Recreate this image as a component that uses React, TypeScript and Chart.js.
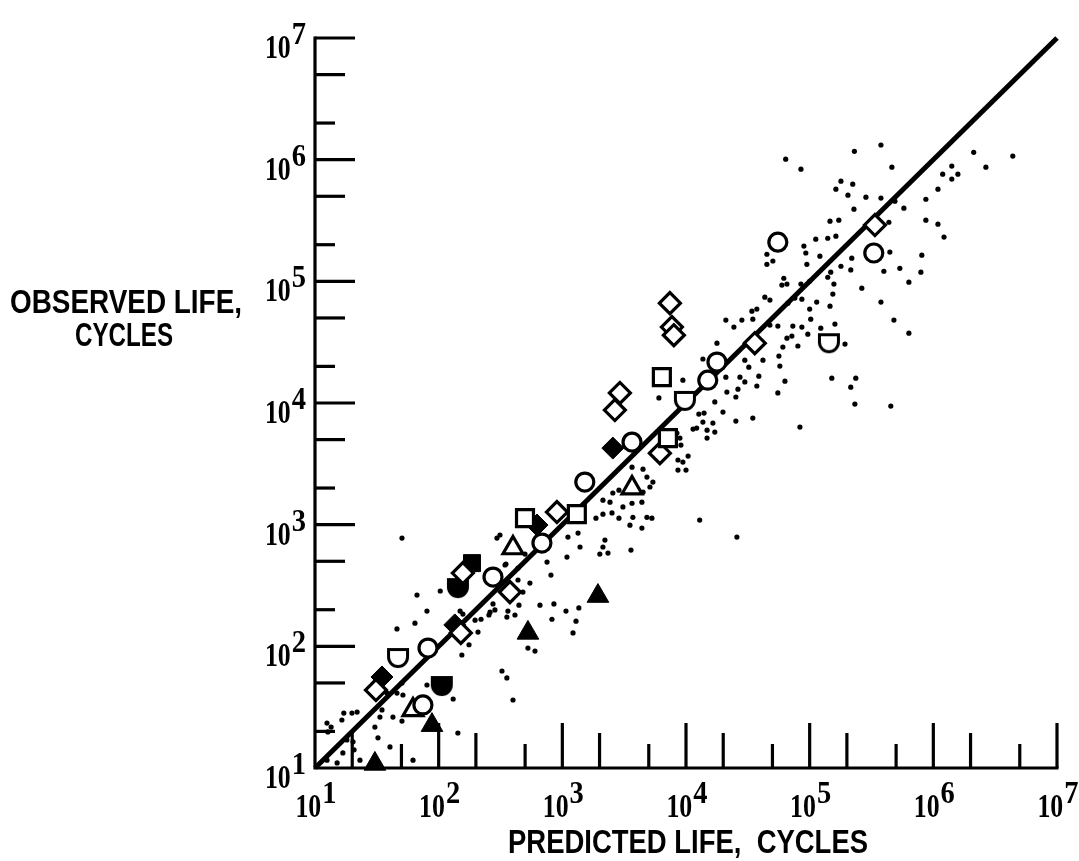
import React, { useEffect, useRef } from 'react';
import { Chart, registerables } from 'chart.js';

Chart.register(...registerables);

// ---------- axis definition ----------
const AXIS_MIN = 10;
const AXIS_MAX = 1e7;
const decadeValues = [1e1, 1e2, 1e3, 1e4, 1e5, 1e6, 1e7];
const decadeExponents = ['1', '2', '3', '4', '5', '6', '7'];
const minorMultipliers = [2, 5];
const xTitle = 'PREDICTED LIFE,  CYCLES';
const yTitleLines = ['OBSERVED LIFE,', 'CYCLES'];

// ---------- data (predicted life, observed life) ----------
const fitLine: [number, number][] = [[10, 10], [1e7, 1e7]];

const openCircles: [number, number][] = [
  [5.53e4, 2.1e5], [3.3e5, 1.71e5], [1.78e4, 2.17e4], [1.5e4, 1.54e4], [3.66e3, 4.77e3],
  [1.52e3, 2.24e3], [684, 706], [275, 371], [82, 96.8], [74.6, 33],
];
const openShields: [number, number][] = [[9.8e3, 1.06e4], [46.9, 81.7], [1.43e5, 3.16e4]];
const openSquares: [number, number][] = [[6.38e3, 1.63e4], [7.14e3, 5.15e3], [1.31e3, 1.22e3], [499, 1.13e3]];
const openDiamonds: [number, number][] = [
  [7.41e3, 6.62e4], [7.69e3, 4.21e4], [7.98e3, 3.61e4], [2.92e3, 1.21e4], [2.66e3, 8.75e3],
  [6.15e3, 3.87e3], [3.6e4, 3.1e4], [3.37e5, 2.9e5], [904, 1.27e3], [377, 279], [151, 129],
  [31.1, 43.7], [157, 400],
];
const openTriangles: [number, number][] = [[3.66e3, 2.0e3], [399, 643], [62, 30]];
const filledTriangles: [number, number][] = [[1.94e3, 259], [527, 129], [88.3, 22.5], [30.5, 10.8]];
const filledDiamonds: [number, number][] = [[2.56e3, 4.26e3], [624, 993], [135, 150], [34.8, 56]];
const filledSquares: [number, number][] = [[186, 483]];
const filledShields: [number, number][] = [[106, 48.1], [143, 307]];

const dots: [number, number][] = [
  [6.4e4, 1.01e6], [8.5e4, 8.35e5], [2.3e5, 1.17e6], [3.77e5, 1.32e6], [4.62e5, 8.67e5],
  [1.79e5, 6.66e5], [2.23e5, 6.29e5], [1.63e5, 5.72e5], [2.04e5, 5.11e5], [2.85e5, 4.92e5],
  [3.77e5, 4.83e5], [2.28e5, 3.92e5], [4.89e5, 4.56e5], [5.78e5, 3.99e5], [8.7e5, 4.73e5],
  [1.09e6, 5.72e5], [1.19e6, 7.6e5], [1.41e6, 8.85e5], [1.58e6, 7.6e5], [1.41e6, 6.92e5],
  [2.12e6, 1.15e6], [2.66e6, 8.67e5], [4.39e6, 1.07e6], [1.46e5, 3.12e5], [1.72e5, 3.18e5],
  [1.12e5, 2.22e5], [1.4e5, 2.26e5], [1.63e5, 2.35e5], [8.98e4, 1.95e5], [9.31e4, 1.71e5],
  [1.21e5, 1.61e5], [9.49e4, 1.38e5], [5.04e4, 1.47e5], [2.19e5, 1.55e5], [1.79e5, 1.33e5],
  [2.15e5, 1.24e5], [1.48e5, 1.19e5], [1.4e5, 1.08e5], [1.57e5, 9.49e4], [1.54e5, 7.85e4],
  [1.46e5, 6.25e4], [1.14e5, 6.75e4], [1.0e5, 5.91e4], [1.02e5, 4.89e4], [8.65e4, 7.14e4],
  [6.18e4, 1.06e5], [5.96e4, 9.31e4], [6.55e4, 9.49e4], [8.5e4, 9.49e4], [1.0e5, 1.0e5],
  [7.59e4, 7.28e4], [6.67e4, 6.62e4], [4.37e5, 3.06e5], [4.45e5, 1.74e5], [3.98e5, 1.21e5],
  [5.36e5, 1.28e5], [8.07e5, 1.64e5], [7.93e5, 1.19e5], [6.34e5, 9.85e4], [8.7e5, 3.18e5],
  [1.09e6, 2.95e5], [1.22e6, 2.31e5], [2.64e5, 8.79e4], [3.77e5, 6.75e4], [4.8e5, 4.8e4],
  [6.34e5, 3.75e4], [1.93e5, 3.05e4], [1.6e5, 4.45e4], [1.23e5, 4.12e4], [9.66e4, 3.68e4],
  [8.65e4, 4.21e4], [7.18e4, 3.55e4], [6.55e4, 3.41e4], [8.03e4, 2.94e4], [6.07e4, 2.88e4],
  [5.64e4, 2.43e4], [5.74e4, 2.01e4], [6.31e4, 1.51e4], [5.53e4, 1.21e4], [1.51e5, 1.6e4],
  [2.36e5, 1.6e4], [2.15e5, 1.35e4], [2.32e5, 9.79e3], [4.53e5, 9.44e3], [8.34e4, 6.34e3],
  [5.53e4, 4.29e4], [4.51e4, 1.67e5], [4.51e4, 1.38e5], [4.34e4, 7.41e4], [4.77e4, 7.01e4],
  [3.41e4, 5.69e4], [3.74e4, 5.91e4], [2.1e4, 4.8e4], [2.83e4, 4.8e4], [3.47e4, 4.89e4],
  [2.44e4, 4.21e4], [4.77e4, 4.37e4], [7.31e4, 4.29e4], [1.78e4, 3.1e4], [1.37e4, 2.3e4],
  [2.99e4, 2.25e4], [4.19e4, 2.25e4], [3.22e4, 1.97e4], [2.1e4, 1.63e4], [2.73e4, 1.63e4],
  [3.88e4, 1.66e4], [2.99e4, 1.49e4], [3.74e4, 1.38e4], [2.63e4, 1.3e4], [2.14e4, 1.23e4],
  [2.53e4, 1.12e4], [1.71e4, 1.02e4], [1.99e4, 8.42e3], [1.4e4, 8.26e3], [1.27e4, 8.11e3],
  [1.37e4, 6.97e3], [1.65e4, 6.84e3], [1.48e4, 5.98e3], [1.71e4, 5.77e3], [2.53e4, 7.1e3],
  [3.47e4, 7.52e3], [9.44e3, 1.54e4], [6.04e3, 1.1e4], [8.93e3, 5.15e3], [9.1e3, 4.51e3],
  [1.04e4, 3.66e3], [8.61e3, 3.4e3], [9.44e3, 3.27e3], [8.61e3, 2.81e3], [1.0e4, 2.81e3],
  [4.49e3, 2.86e3], [4.83e3, 2.46e3], [3.66e3, 2.97e3], [8.44e3, 5.66e3], [1.14e4, 6.11e3],
  [1.22e4, 6.22e3], [1.48e4, 5.15e3], [5.4e3, 2.24e3], [5.11e3, 2.04e3], [4.49e3, 1.85e3],
  [2.56e3, 1.82e3], [2.87e3, 1.92e3], [2.13e3, 1.59e3], [2.43e3, 1.53e3], [2.52e3, 1.25e3],
  [3.09e3, 1.4e3], [2.13e3, 1.22e3], [1.87e3, 1.13e3], [3.66e3, 1.5e3], [4.4e3, 1.53e3],
  [2.87e3, 1.13e3], [3.72e3, 1.15e3], [3.52e3, 990], [4.4e3, 938], [4.83e3, 1.15e3],
  [5.3e3, 1.13e3], [2.21e3, 747], [2.13e3, 655], [2.01e3, 573], [2.34e3, 584],
  [3.59e3, 618], [1.39e3, 655], [1.11e3, 791], [1.34e3, 853], [1.09e3, 542],
  [752, 493], [809, 385], [547, 331], [438, 351], [350, 475],
  [313, 822], [296, 776], [499, 573], [659, 218], [855, 223],
  [1.07e3, 195], [1.36e3, 207], [824, 167], [1.29e3, 161], [1.22e3, 129],
  [260, 191], [220, 167], [197, 164], [275, 223], [285, 199],
  [363, 195], [414, 181], [356, 174], [80.4, 195], [103, 285],
  [149, 195], [157, 184], [208, 131], [446, 218], [66.8, 264],
  [64.3, 155], [46, 139], [255, 181], [480, 279], [344, 466],
  [438, 440], [176, 103], [154, 84.9], [325, 62.7], [356, 55],
  [399, 36.2], [143, 19.4], [131, 36.9], [80.4, 48.1], [46, 41.3],
  [51.4, 39.8], [42.7, 26.2], [50.5, 24.3], [34.8, 30], [33.5, 26.2],
  [30.5, 21.7], [32.3, 17.7], [40.4, 14.9], [19.9, 28.3], [17.1, 28.3],
  [21.9, 28.8], [16.5, 24.8], [12.5, 23.4], [13.5, 21.7], [12.7, 19.8],
  [20.3, 16.4], [16.8, 13.3], [20.7, 14.1], [18.1, 17], [62, 11.6],
  [23.1, 11.6], [15.1, 11], [12.5, 11.6], [38.2, 41.3], [50.5, 49.9],
  [527, 96.8], [601, 91.4], [50.5, 776], [1.29e4, 1.09e3], [2.58e4, 791],
];

// ---------- helpers ----------
const toPts = (arr: [number, number][]) => arr.map(([x, y]) => ({ x, y }));

function makeShield(filled: boolean): HTMLCanvasElement {
  const c = document.createElement('canvas');
  c.width = 26;
  c.height = 26;
  const g = c.getContext('2d') as CanvasRenderingContext2D;
  g.translate(13, 13);
  g.beginPath();
  g.moveTo(-9.5, -7.5);
  g.lineTo(9.5, -7.5);
  g.lineTo(9.5, 0);
  g.arc(0, 0, 9.5, 0, Math.PI, false);
  g.closePath();
  g.lineWidth = 3;
  g.strokeStyle = '#000';
  g.fillStyle = filled ? '#000' : '#fff';
  g.fill();
  g.stroke();
  return c;
}

function drawScaled(
  ctx: CanvasRenderingContext2D,
  text: string,
  left: number,
  baseline: number,
  font: string,
  sx: number,
) {
  ctx.save();
  ctx.font = font;
  ctx.textAlign = 'left';
  ctx.textBaseline = 'alphabetic';
  ctx.translate(left, baseline);
  ctx.scale(sx, 1);
  ctx.fillText(text, 0, 0);
  ctx.restore();
}

function measure(ctx: CanvasRenderingContext2D, text: string, font: string) {
  ctx.save();
  ctx.font = font;
  const w = ctx.measureText(text).width;
  ctx.restore();
  return w;
}

function drawFit(
  ctx: CanvasRenderingContext2D,
  text: string,
  left: number,
  baseline: number,
  font: string,
  width: number,
) {
  const w = measure(ctx, text, font);
  drawScaled(ctx, text, left, baseline, font, width / w);
}

const BASE_FONT = 'bold 34px "Liberation Serif", serif';
const EXP_FONT = 'bold 31px "Liberation Serif", serif';
const TITLE_FONT = 'bold 33px "Liberation Sans", sans-serif';
const BASE_SX = 0.76;
const EXP_SX = 0.92;

const framePlugin = {
  id: 'frame',
  beforeDraw(chart: any) {
    const ctx = chart.ctx as CanvasRenderingContext2D;
    ctx.save();
    ctx.fillStyle = '#fff';
    ctx.fillRect(0, 0, chart.width, chart.height);
    ctx.restore();
  },
  afterDatasetsDraw(chart: any) {
    const ctx = chart.ctx as CanvasRenderingContext2D;
    const xs = chart.scales.x;
    const ys = chart.scales.y;
    const L = xs.getPixelForValue(AXIS_MIN);
    const R = xs.getPixelForValue(AXIS_MAX);
    const B = ys.getPixelForValue(AXIS_MIN);
    const T = ys.getPixelForValue(AXIS_MAX);
    ctx.save();
    ctx.strokeStyle = '#000';
    ctx.fillStyle = '#000';
    ctx.lineWidth = 3.2;
    ctx.lineCap = 'butt';
    ctx.beginPath();
    ctx.moveTo(L, T - 1.5);
    ctx.lineTo(L, B);
    ctx.lineTo(R + 1.5, B);
    ctx.stroke();

    decadeValues.forEach((d) => {
      [1, ...minorMultipliers].forEach((m) => {
        const v = d * m;
        if (v > AXIS_MAX || v <= AXIS_MIN) return;
        const py = ys.getPixelForValue(v);
        const ly = m === 1 ? 40 : m === 5 ? 30 : 20;
        ctx.beginPath();
        ctx.moveTo(L, py);
        ctx.lineTo(L + ly, py);
        ctx.stroke();
        const px = xs.getPixelForValue(v);
        const lx = m === 1 ? 45 : m === 2 ? 35 : 24;
        ctx.beginPath();
        ctx.moveTo(px, B);
        ctx.lineTo(px, B - lx);
        ctx.stroke();
      });
    });

    // tick labels
    decadeValues.forEach((d, i) => {
      const e = decadeExponents[i];
      const bw = measure(ctx, '10', BASE_FONT) * BASE_SX;
      const ew = measure(ctx, e, EXP_FONT) * EXP_SX;
      // x axis
      const px = xs.getPixelForValue(d);
      const total = bw + 1 + ew;
      const start = px - total / 2 + 1;
      drawScaled(ctx, '10', start, B + 49, BASE_FONT, BASE_SX);
      drawScaled(ctx, e, start + bw + 1, B + 35, EXP_FONT, EXP_SX);
      // y axis
      const py = ys.getPixelForValue(d);
      const right = L - 9;
      drawScaled(ctx, e, right - ew, py + 6, EXP_FONT, EXP_SX);
      drawScaled(ctx, '10', right - ew - 1 - bw, py + 20, BASE_FONT, BASE_SX);
    });

    // axis titles
    drawFit(ctx, yTitleLines[0], 10, 313, TITLE_FONT, 232);
    drawFit(ctx, yTitleLines[1], 75, 346, TITLE_FONT, 98);
    drawFit(ctx, xTitle, 508, 853, TITLE_FONT, 360);
    ctx.restore();
  },
};

export default function App() {
  const canvasRef = useRef<HTMLCanvasElement | null>(null);

  useEffect(() => {
    const canvas = canvasRef.current;
    if (!canvas) return;
    const openShield = makeShield(false);
    const filledShield = makeShield(true);
    const openMarker = (pointStyle: any, radius: number) => ({
      pointStyle,
      pointRadius: radius,
      pointBorderWidth: 3.2,
      pointBorderColor: '#000',
      pointBackgroundColor: '#fff',
      showLine: false,
      clip: false as any,
      order: 0,
    });
    const filledMarker = (pointStyle: any, radius: number) => ({
      pointStyle,
      pointRadius: radius,
      pointBorderWidth: 1,
      pointBorderColor: '#000',
      pointBackgroundColor: '#000',
      showLine: false,
      clip: false as any,
      order: 0,
    });

    const chart = new Chart(canvas, {
      type: 'scatter',
      data: {
        datasets: [
          { label: 'open circles', data: toPts(openCircles), ...openMarker('circle', 9) },
          { label: 'open squares', data: toPts(openSquares), ...openMarker('rect', 12) },
          { label: 'open diamonds', data: toPts(openDiamonds), ...openMarker('rectRot', 10.5) },
          { label: 'open triangles', data: toPts(openTriangles), ...openMarker('triangle', 11.5) },
          { label: 'open shields', data: toPts(openShields), ...openMarker(openShield, 10) },
          { label: 'filled triangles', data: toPts(filledTriangles), ...filledMarker('triangle', 12.5) },
          { label: 'filled diamonds', data: toPts(filledDiamonds), ...filledMarker('rectRot', 11) },
          { label: 'filled squares', data: toPts(filledSquares), ...filledMarker('rect', 12) },
          { label: 'filled shields', data: toPts(filledShields), ...filledMarker(filledShield, 10) },
          {
            label: 'other data',
            data: toPts(dots),
            pointStyle: 'circle',
            pointRadius: 2.6,
            pointBorderWidth: 0,
            pointBackgroundColor: '#000',
            pointBorderColor: '#000',
            showLine: false,
            clip: false as any,
            order: 1,
          },
          {
            label: 'predicted = observed',
            data: toPts(fitLine),
            showLine: true,
            borderColor: '#000',
            borderWidth: 5,
            pointRadius: 0,
            clip: false as any,
            order: 2,
          },
        ] as any,
      },
      options: {
        responsive: false,
        animation: false,
        devicePixelRatio: 1,
        layout: { padding: { left: 315, right: 22, top: 38, bottom: 93 } },
        scales: {
          x: { type: 'logarithmic', min: AXIS_MIN, max: AXIS_MAX, display: false },
          y: { type: 'logarithmic', min: AXIS_MIN, max: AXIS_MAX, display: false },
        },
        plugins: {
          legend: { display: false },
          tooltip: { enabled: false },
        },
        events: [],
      } as any,
      plugins: [framePlugin],
    });
    return () => chart.destroy();
  }, []);

  return (
    <div style={{ position: 'absolute', left: 0, top: 0, width: 1079, height: 861, background: '#fff' }}>
      <canvas ref={canvasRef} width={1079} height={861} style={{ display: 'block' }} />
    </div>
  );
}
